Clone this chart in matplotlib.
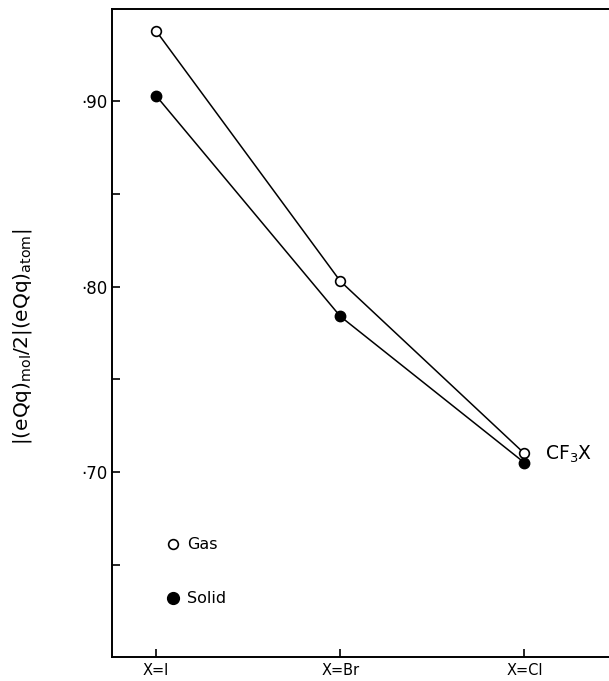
import matplotlib
matplotlib.use("Agg")
import matplotlib.pyplot as plt
from matplotlib.lines import Line2D

# CF3X halogen quadrupole coupling ratio
halogens = ["X=I", "X=Br", "X=Cl"]
gas = [0.938, 0.803, 0.710]
solid = [0.903, 0.784, 0.705]

yticks = [0.65, 0.70, 0.75, 0.80, 0.85, 0.90]
ytick_labels = ["", "·70", "", "·80", "", "·90"]

plt.rcParams["font.family"] = ["DejaVu Sans"]

fig = plt.figure(figsize=(6.09, 6.81), dpi=100)
ax = fig.add_axes([0.184, 0.035, 0.816, 0.952])

x = list(range(len(halogens)))
ax.plot(x, gas, "-", color="black", lw=1.1, marker="o", ms=7,
        mfc="white", mec="black", mew=1.2, zorder=3)
ax.plot(x, solid, "-", color="black", lw=1.1, marker="o", ms=7.5,
        mfc="black", mec="black", zorder=3)

ax.set_xlim(-0.24, 2.46)
ax.set_ylim(0.60, 0.95)

ax.set_xticks(x)
ax.set_xticklabels(halogens, fontsize=10.5)
ax.set_yticks(yticks)
ax.set_yticklabels(ytick_labels, fontsize=12)
ax.tick_params(direction="in", length=6, width=1.2, color="black")
ax.tick_params(axis="x", pad=4)
ax.tick_params(axis="y", pad=3)

for side in ["left", "top", "bottom"]:
    ax.spines[side].set_linewidth(1.4)
ax.spines["right"].set_visible(False)

# series label at the end of the lines
ax.annotate(r"CF$_3$X", xy=(x[-1], gas[-1]), xytext=(15, -1),
            textcoords="offset points", fontsize=13.5, va="center", ha="left")

# legend
handles = [
    Line2D([], [], ls="none", marker="o", ms=7, mfc="white", mec="black", mew=1.2),
    Line2D([], [], ls="none", marker="o", ms=8.5, mfc="black", mec="black"),
]
ax.legend(handles, ["Gas", "Solid"], loc="upper left",
          bbox_to_anchor=(0.08, 0.207), frameon=False, fontsize=11.5,
          handlelength=0.8, handletextpad=0.5, labelspacing=2.45)

fig.text(0.037, 0.505, r"|(eQq)$_{\mathregular{mol}}$/2|(eQq)$_{\mathregular{atom}}$|",
         rotation=90, fontsize=14.5, ha="center", va="center")

fig.savefig("out.png", dpi=100)
